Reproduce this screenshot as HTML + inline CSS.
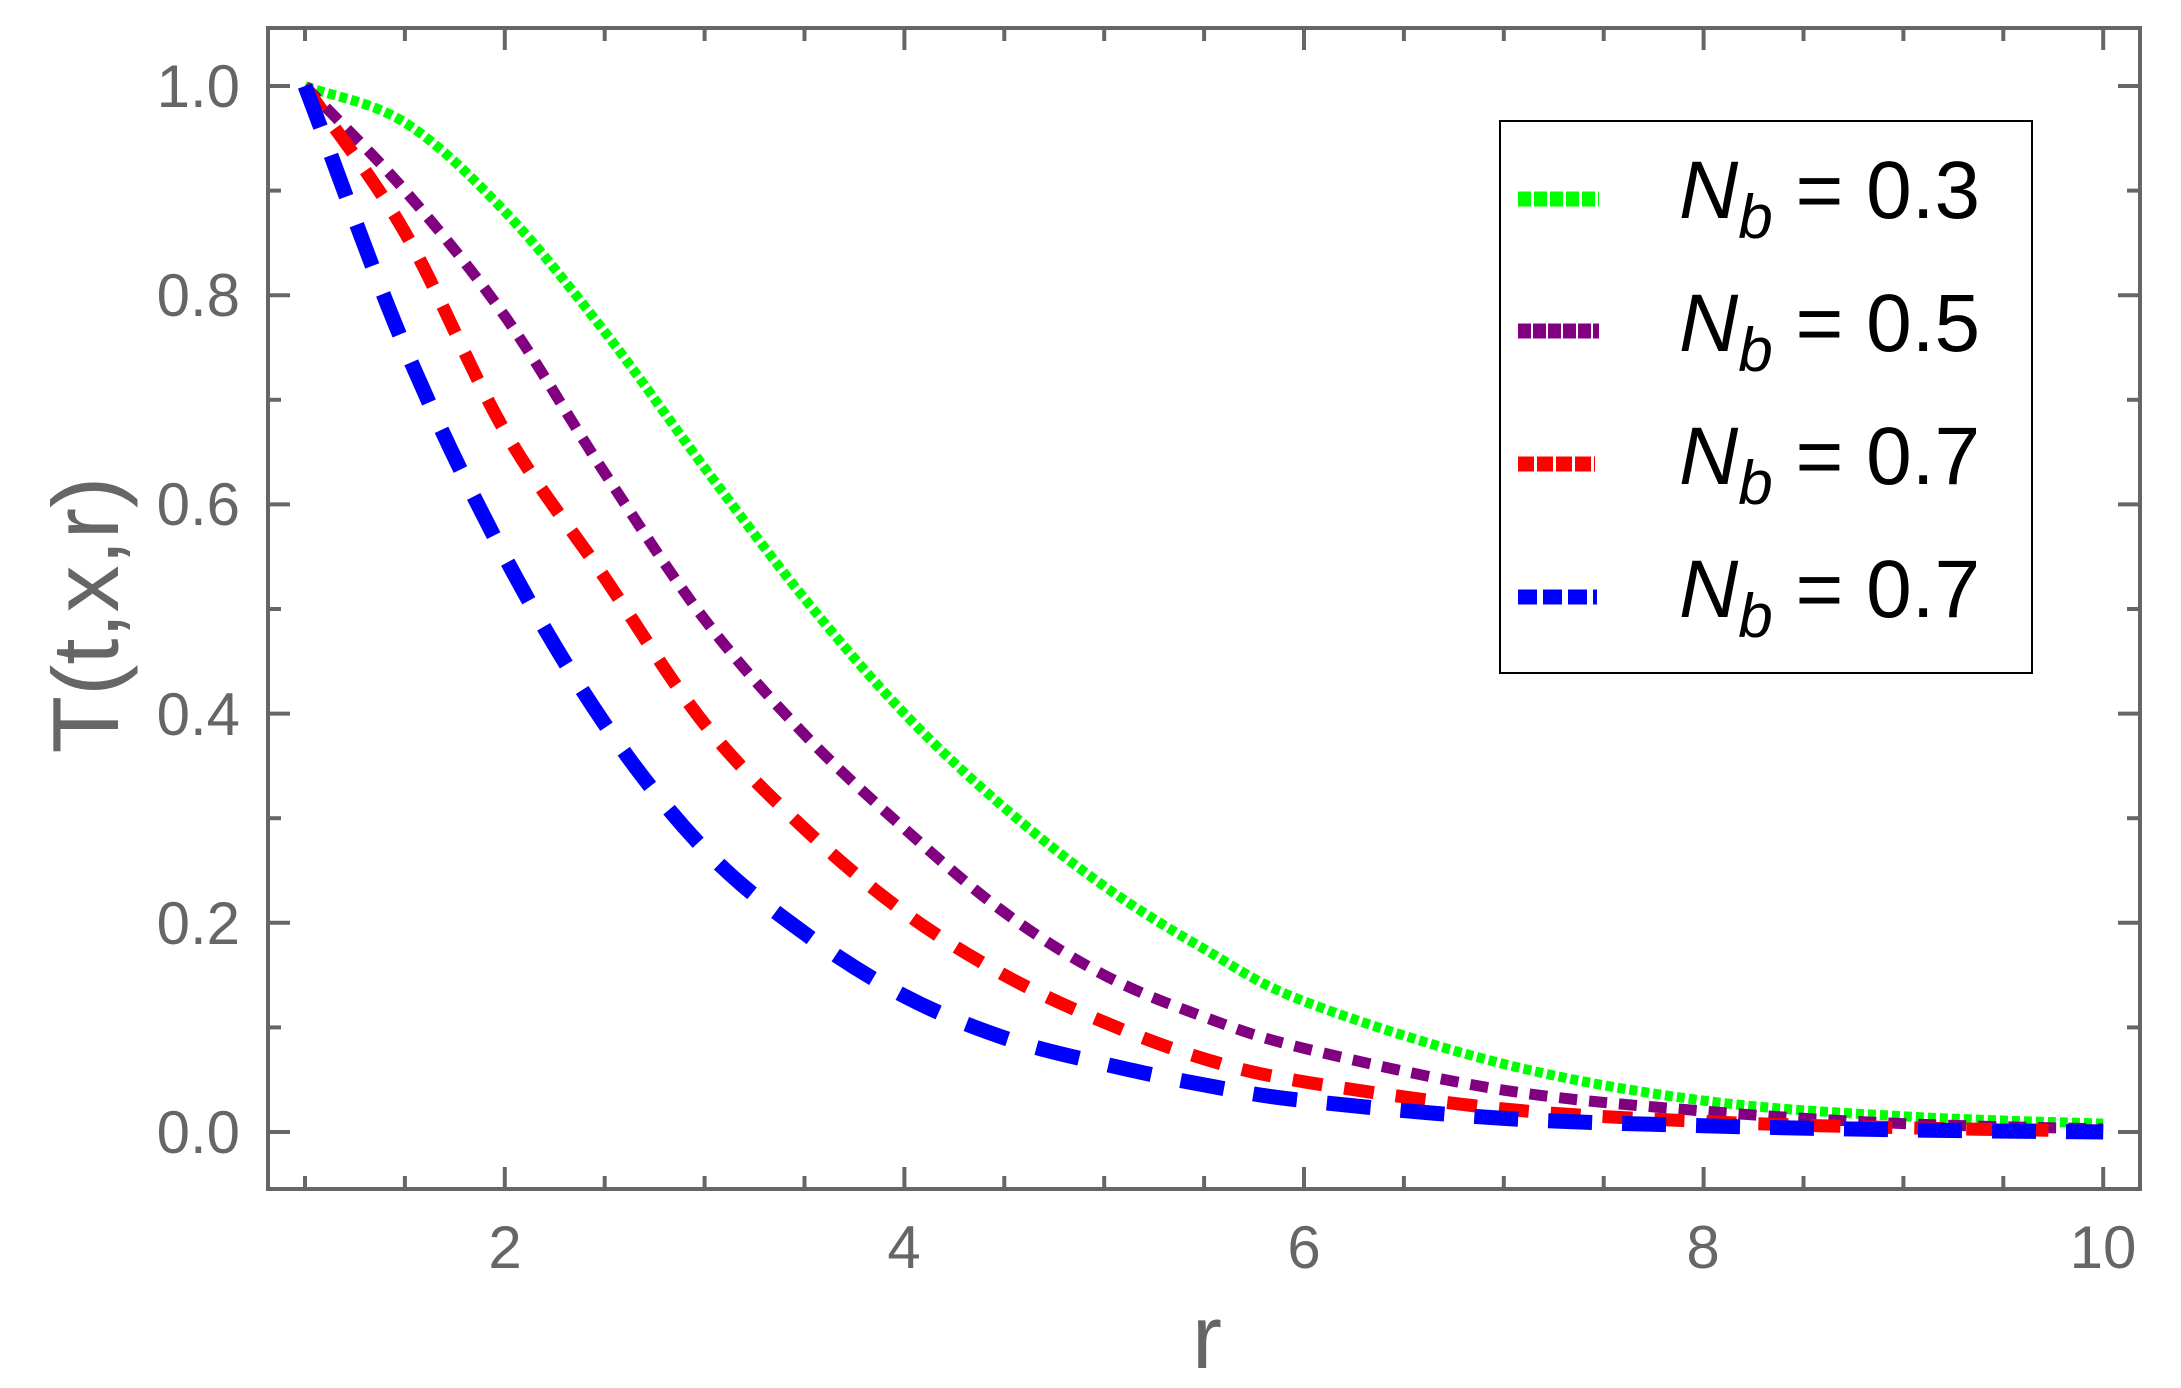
<!DOCTYPE html>
<html><head><meta charset="utf-8"><style>
html,body{margin:0;padding:0;background:#fff;}
svg{display:block;}
</style></head><body>
<svg id="s" width="2181" height="1388" xmlns="http://www.w3.org/2000/svg" font-family="Liberation Sans, Arial, sans-serif">
<rect width="2181" height="1388" fill="#fff"/>
<g id="curves"></g>
<rect x="268" y="28" width="1872" height="1161" fill="none" stroke="#666" stroke-width="4"/>
<g id="ticks" stroke="#666" stroke-width="4"></g>
<g fill="#666" font-size="60" text-anchor="end">
<text x="240" y="107">1.0</text>
<text x="240" y="316">0.8</text>
<text x="240" y="525">0.6</text>
<text x="240" y="735">0.4</text>
<text x="240" y="944">0.2</text>
<text x="240" y="1153">0.0</text>
</g>
<g fill="#666" font-size="60" text-anchor="middle">
<text x="505" y="1268">2</text>
<text x="904" y="1268">4</text>
<text x="1304" y="1268">6</text>
<text x="1703" y="1268">8</text>
<text x="2103" y="1268">10</text>
</g>
<text x="1207" y="1368" fill="#666" font-size="90" text-anchor="middle">r</text>
<text transform="translate(118,615) rotate(-90)" fill="#666" font-size="94" text-anchor="middle">T(t,x,r)</text>
<rect x="1500" y="121" width="532" height="552" fill="#fff" stroke="#000" stroke-width="2"/>
<g stroke-width="15">
<line x1="1518" y1="199" x2="1599" y2="199" stroke="#00ff00" stroke-dasharray="13 3"/>
<line x1="1518" y1="331" x2="1599" y2="331" stroke="#800080" stroke-dasharray="13 2"/>
<line x1="1518" y1="464" x2="1595" y2="464" stroke="#ff0000" stroke-dasharray="16 3"/>
<line x1="1518" y1="597" x2="1597" y2="597" stroke="#0000ff" stroke-dasharray="19 6"/>
</g>
<g font-size="82" fill="#000">
<text x="1679" y="218"><tspan font-style="italic">N</tspan><tspan font-style="italic" font-size="62" dy="20">b</tspan><tspan dy="-20"> = 0.3</tspan></text>
<text x="1679" y="351"><tspan font-style="italic">N</tspan><tspan font-style="italic" font-size="62" dy="20">b</tspan><tspan dy="-20"> = 0.5</tspan></text>
<text x="1679" y="484"><tspan font-style="italic">N</tspan><tspan font-style="italic" font-size="62" dy="20">b</tspan><tspan dy="-20"> = 0.7</tspan></text>
<text x="1679" y="617"><tspan font-style="italic">N</tspan><tspan font-style="italic" font-size="62" dy="20">b</tspan><tspan dy="-20"> = 0.7</tspan></text>
</g>
</svg>
<script>
var NS="http://www.w3.org/2000/svg";
function X(r){return 305+199.8*(r-1);}
function Y(v){return 1132-1046*v;}
var rs=[1,1.5,2,2.5,3,3.5,4,4.5,5,5.5,6,7,8,9,10];
var series=[
 {c:"#0000ff",w:15,d:"44 30",v:[1,0.75,0.55,0.39,0.27,0.19,0.13,0.09,0.065,0.045,0.03,0.013,0.006,0.002,0.0]},
 {c:"#ff0000",w:13,d:"30 22",v:[1,0.86,0.67,0.53,0.39,0.29,0.21,0.15,0.105,0.07,0.048,0.022,0.01,0.004,0.001]},
 {c:"#800080",w:11,d:"18 12",v:[1,0.9,0.78,0.63,0.49,0.38,0.29,0.21,0.15,0.11,0.08,0.04,0.02,0.008,0.003]},
 {c:"#00ff00",w:10,d:"8 4",v:[1,0.965,0.88,0.765,0.635,0.51,0.40,0.31,0.235,0.175,0.125,0.065,0.03,0.015,0.008]}
];
var g=document.getElementById("curves");
series.reverse().forEach(function(s){
 var p=rs.map(function(r,i){return [X(r),Y(s.v[i])];});
 var d="M"+p[0][0]+","+p[0][1];
 for(var i=0;i<p.length-1;i++){
  var p0=p[i-1]||[2*p[0][0]-p[1][0],2*p[0][1]-p[1][1]],p1=p[i],p2=p[i+1],p3=p[i+2]||p[i+1];
  d+=" C"+(p1[0]+(p2[0]-p0[0])/6)+","+(p1[1]+(p2[1]-p0[1])/6)+" "+(p2[0]-(p3[0]-p1[0])/6)+","+(p2[1]-(p3[1]-p1[1])/6)+" "+p2[0]+","+p2[1];
 }
 var e=document.createElementNS(NS,"path");
 e.setAttribute("d",d);e.setAttribute("fill","none");e.setAttribute("stroke",s.c);
 e.setAttribute("stroke-width",s.w);e.setAttribute("stroke-dasharray",s.d);
 g.appendChild(e);
});
var t=document.getElementById("ticks");
function ln(a,b,c,d){var e=document.createElementNS(NS,"line");e.setAttribute("x1",a);e.setAttribute("y1",b);e.setAttribute("x2",c);e.setAttribute("y2",d);t.appendChild(e);}
for(var k=0;k<=5;k++){var y=Y(k*0.2);ln(270,y,290,y);ln(2138,y,2118,y);}
for(var k=-1;k<=5;k++){var y=Y(k*0.2+0.1);if(y>30&&y<1187){ln(270,y,281,y);ln(2138,y,2127,y);}}
for(var r=1;r<=10.01;r+=0.5){var x=X(r);var big=(Math.abs(r-Math.round(r))<0.01&&Math.round(r)%2==0);var L=big?20:11;ln(x,1187,x,1187-L);ln(x,30,x,30+L);}
</script>
</body></html>
